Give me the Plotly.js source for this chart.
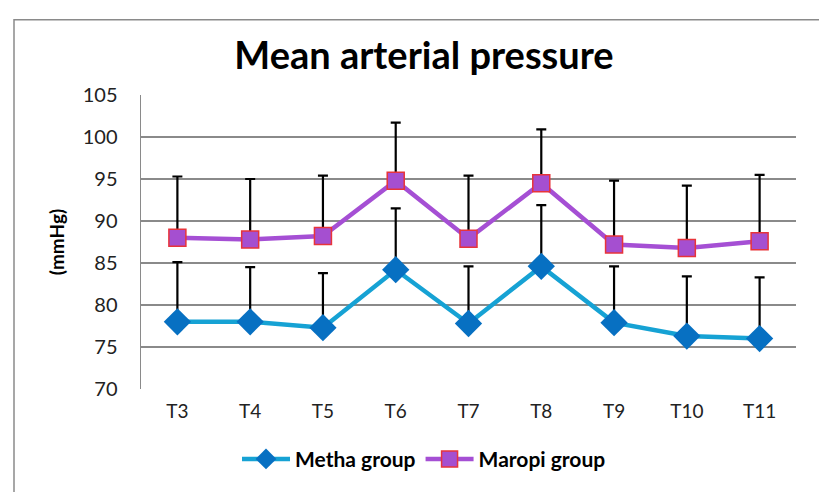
<!DOCTYPE html>
<html>
<head>
<meta charset="utf-8">
<script src="https://cdn.plot.ly/plotly-3.0.1.min.js"></script>
<style>
html,body{margin:0;padding:0;background:#fff;}
#chart{width:819px;height:492px;}
</style>
</head>
<body>
<div id="chart"></div>
<script>
const categories = ["T3","T4","T5","T6","T7","T8","T9","T10","T11"];
const methaMean = [78.0, 78.0, 77.3, 84.2, 77.8, 84.6, 77.9, 76.3, 76.0];
const methaUpper = [85.1, 84.5, 83.8, 91.5, 84.6, 91.9, 84.6, 83.4, 83.3];
const maropiMean = [88.0, 87.8, 88.2, 94.8, 87.9, 94.5, 87.2, 86.8, 87.6];
const maropiUpper = [95.3, 95.0, 95.4, 101.7, 95.4, 100.9, 94.8, 94.2, 95.5];
const yTicks = [70, 75, 80, 85, 90, 95, 100, 105];

const FONT = "Lato, 'Open Sans', sans-serif";
const L = 141, R = 23, T = 95, B = 100, W = 819, H = 492;
const pw = W - L - R, ph = H - T - B;
const px = v => (v - L) / pw;
const py = v => (H - B - v) / ph;

const plus = (up, m) => up.map((u, i) => +(u - m[i]).toFixed(2));
const zeros = n => new Array(n).fill(0);

function errTrace(y, up) {
  return {
    x: categories, y: y, type: "scatter", mode: "markers", showlegend: false, hoverinfo: "skip",
    marker: {size: 1, opacity: 0},
    error_y: {type: "data", symmetric: false, array: plus(up, y),
      arrayminus: zeros(categories.length), color: "#000", thickness: 2.2, width: 5}
  };
}

const traces = [
  errTrace(methaMean, methaUpper),
  {
    name: "Metha group",
    x: categories, y: methaMean, type: "scatter", mode: "lines+markers",
    line: {color: "#16A2D4", width: 4.5},
    marker: {symbol: "diamond", size: 21, color: "#0770C2", line: {width: 0}}
  },
  errTrace(maropiMean, maropiUpper),
  {
    name: "Maropi group",
    x: categories, y: maropiMean, type: "scatter", mode: "lines+markers",
    line: {color: "#A54FD4", width: 4.5},
    marker: {symbol: "square", size: 17, color: "#A54FD0", line: {width: 1.5, color: "#E8343A"}}
  }
];

const layout = {
  width: W, height: H,
  margin: {l: L, r: R, t: T, b: B, pad: 0},
  paper_bgcolor: "#fff", plot_bgcolor: "#fff",
  font: {family: FONT, color: "#000"},
  title: {text: "Mean arterial pressure", font: {family: FONT, size: 38, weight: "bold", color: "#000"},
    xref: "container", x: 424 / W, xanchor: "center", yref: "container", y: 1 - 56 / H, yanchor: "middle"},
  xaxis: {
    type: "category", range: [-0.5, 8.5], showgrid: false, zeroline: false,
    showline: false, ticks: "", tickfont: {family: FONT, size: 19, color: "#222"},
    ticklabelstandoff: 9, fixedrange: true
  },
  yaxis: {
    range: [70, 105], tickvals: yTicks, ticktext: yTicks.map(String),
    showgrid: true, gridcolor: "#8a8a8a", gridwidth: 1.5, zeroline: false,
    showline: true, linecolor: "#8a8a8a", linewidth: 1.5, ticks: "",
    tickfont: {family: FONT, size: 20, color: "#222"}, ticklabelstandoff: 18,
    title: {text: "(mmHg)", font: {family: FONT, size: 19, weight: "bold", color: "#000"}, standoff: 13},
    fixedrange: true
  },
  showlegend: true,
  legend: {orientation: "h", x: px(424), xanchor: "center", y: py(463), yanchor: "middle",
    font: {family: FONT, size: 21, weight: "bold", color: "#000"}, itemwidth: 48,
    bgcolor: "rgba(0,0,0,0)", tracegroupgap: 0},
  shapes: [{type: "rect", xref: "paper", yref: "paper",
    x0: px(14), x1: px(840), y0: py(520), y1: py(19),
    line: {color: "#8a8a8a", width: 1.5}, layer: "below"}]
};

Plotly.newPlot("chart", traces, layout, {displayModeBar: false, staticPlot: true});
</script>
</body>
</html>
